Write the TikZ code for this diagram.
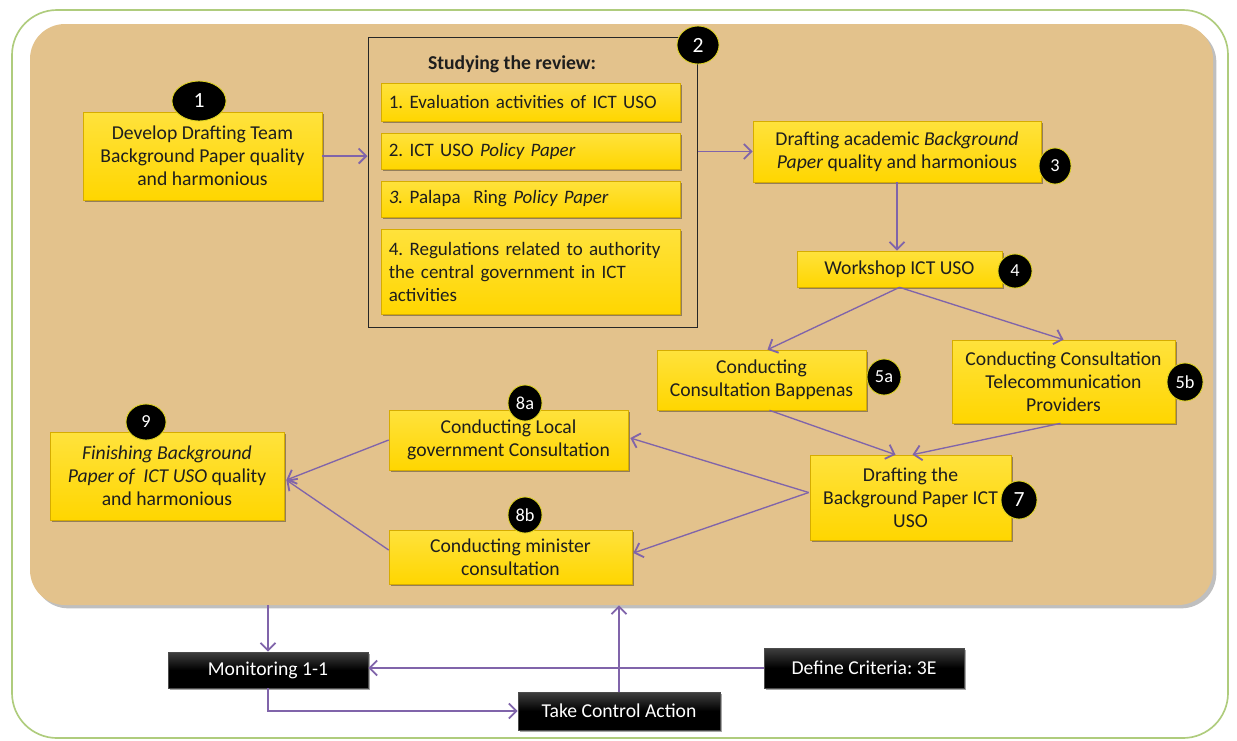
\documentclass[tikz,border=0pt]{standalone}
\usepackage{fontspec}
\setmainfont{Carlito}
\usetikzlibrary{arrows.meta,shadows,calc,shapes.geometric}
\definecolor{tanc}{RGB}{227,194,140}
\definecolor{yel}{RGB}{255,214,0}
\definecolor{yeltop}{RGB}{255,226,60}
\definecolor{yeldark}{RGB}{214,172,0}
\definecolor{arrowc}{RGB}{128,100,170}
\definecolor{framegreen}{RGB}{175,204,125}
\definecolor{txt}{RGB}{30,30,30}
\frenchspacing
\hyphenpenalty=10000
\tikzset{
  outerframe/.style={draw=framegreen, line width=1pt, rounded corners=27pt, fill=white},
  panel/.style={fill=tanc, rounded corners=21pt, drop shadow={shadow xshift=2pt, shadow yshift=-2pt, opacity=0.25, fill=black}},
  ybox/.style={top color=yeltop, bottom color=yel, draw=yeldark, line width=0.4pt, text=txt, align=center,
    font=\fontsize{11.8}{13.8}\selectfont, inner sep=2pt,
    drop shadow={shadow xshift=1.2pt, shadow yshift=-1.2pt, opacity=0.35, fill=black}},
  itembox/.style={ybox, align=left, text width=170pt, inner xsep=4.7pt,
    font=\fontsize{11.4}{13.8}\selectfont},
  bbox/.style={top color=black!75, bottom color=black, middle color=black, draw=black!70, text=white, font=\fontsize{11.8}{13.8}\selectfont,
    drop shadow={shadow xshift=1.2pt, shadow yshift=-1.2pt, opacity=0.35, fill=black}},
  badge/.style={ellipse, fill=black, draw=yellow!85!black, line width=0.5pt, text=white,
    inner sep=0pt, font=\fontsize{11}{12}\selectfont},
  conn/.style={draw=arrowc, line width=0.8pt, -{Straight Barb[length=4.5pt,width=9pt,line width=1.1pt]}}
}
\begin{document}
\begin{tikzpicture}[x=0.6pt,y=-0.6pt]
\useasboundingbox (0,0) rectangle (1237,740);
% frames
\node[outerframe, minimum width=1216*0.6pt, minimum height=728*0.6pt] (frame) at (620,374) {};
\node[panel, minimum width=1183*0.6pt, minimum height=581*0.6pt] (panel) at (621.5,314.5) {};

% box 1
\node[ybox, minimum width=239*0.6pt, minimum height=88*0.6pt] (box1) at (202.5,156)
  {Develop Drafting Team\\Background Paper quality\\and harmonious};
\node[badge, minimum width=54*0.6pt, minimum height=40*0.6pt, font=\fontsize{13}{14}\selectfont] (b1) at (199,101) {1};

% review group
\node[draw=black!85, line width=0.6pt, minimum width=329*0.6pt, minimum height=290*0.6pt] (review) at (532.5,182) {};
\node[badge, minimum width=42*0.6pt, minimum height=38*0.6pt, font=\fontsize{13}{14}\selectfont] (b2) at (698,45) {2};
\node[text=txt, font=\bfseries\fontsize{11.8}{13}\selectfont] (title) at (512,64) {Studying the review:};
\node[itembox, minimum width=299*0.6pt, minimum height=38*0.6pt] (i1) at (530.5,102) {1. Evaluation activities of ICT USO};
\node[itembox, minimum width=299*0.6pt, minimum height=36*0.6pt] (i2) at (530.5,151) {2. ICT USO \textit{Policy Paper}};
\node[itembox, minimum width=299*0.6pt, minimum height=36*0.6pt] (i3) at (530.5,199) {\textit{3.} Palapa\ \ Ring \textit{Policy Paper}};
\node[itembox, minimum width=299*0.6pt, minimum height=85*0.6pt] (i4) at (530.5,271.5)
  {4. Regulations related to authority\\the central government in ICT\\activities};

% box 3
\node[ybox, minimum width=288*0.6pt, minimum height=61*0.6pt] (box3) at (897,151.5)
  {Drafting academic \textit{Background}\\\textit{Paper} quality and harmonious};
\node[badge, minimum width=32*0.6pt, minimum height=36*0.6pt] (b3) at (1055,166) {3};

% box 4
\node[ybox, minimum width=205*0.6pt, minimum height=36*0.6pt] (box4) at (899.5,269) {Workshop ICT USO};
\node[badge, minimum width=34*0.6pt, minimum height=34*0.6pt] (b4) at (1015,271) {4};

% box 5a, 5b
\node[ybox, minimum width=209*0.6pt, minimum height=60*0.6pt] (box5a) at (761.5,380)
  {Conducting\\Consultation Bappenas};
\node[badge, minimum width=34*0.6pt, minimum height=36*0.6pt] (b5a) at (884,377) {5a};
\node[ybox, minimum width=223*0.6pt, minimum height=83*0.6pt] (box5b) at (1063.5,381.5)
  {Conducting Consultation\\Telecommunication\\Providers};
\node[badge, minimum width=36*0.6pt, minimum height=38*0.6pt] (b5b) at (1185,382) {5b};

% box 7
\node[ybox, minimum width=201*0.6pt, minimum height=85*0.6pt] (box7) at (910.5,497.5)
  {Drafting the\\Background Paper ICT\\USO};
\node[badge, minimum width=36*0.6pt, minimum height=38*0.6pt, font=\fontsize{13}{14}\selectfont] (b7) at (1019,500) {7};

% box 8a, 8b
\node[ybox, minimum width=239*0.6pt, minimum height=60*0.6pt] (box8a) at (508.5,440)
  {Conducting Local\\government Consultation};
\node[badge, minimum width=34*0.6pt, minimum height=36*0.6pt] (b8a) at (525,403) {8a};
\node[ybox, minimum width=243*0.6pt, minimum height=54*0.6pt] (box8b) at (510.5,557)
  {Conducting minister\\consultation};
\node[badge, minimum width=34*0.6pt, minimum height=36*0.6pt] (b8b) at (525,515) {8b};

% box 9
\node[ybox, minimum width=234*0.6pt, minimum height=88*0.6pt] (box9) at (167,476)
  {\textit{Finishing Background}\\\textit{Paper of\ \ ICT USO} quality\\and harmonious};
\node[badge, minimum width=40*0.6pt, minimum height=36*0.6pt] (b9) at (146,422) {9};

% black boxes
\node[bbox, minimum width=200*0.6pt, minimum height=36*0.6pt] (mon) at (268,670) {Monitoring 1-1};
\node[bbox, minimum width=202*0.6pt, minimum height=38*0.6pt] (tca) at (619,711) {Take Control Action};
\node[bbox, minimum width=200*0.6pt, minimum height=40*0.6pt] (dc) at (864,668) {Define Criteria: 3E};

% connectors
\draw[conn] (box1.east) -- (box1.east -| review.west);
\draw[conn] (box3.west -| review.east) -- (box3.west);
\draw[conn] (box3.south) -- (box3.south |- box4.north);
\draw[conn] (box4.south) -- ($(box5a.north)+(6,0)$);
\draw[conn] (box4.south) -- (box5b.north);
\draw[conn] ($(box5a.south)+(8,0)$) -- ($(box7.north)+(-15,0)$);
\draw[conn] ($(box5b.south)+(-3,0)$) -- ($(box7.north)+(2,0)$);
\draw[conn] ($(box7.west)+(-1,-5)$) -- ($(box8a.east)+(2,-2)$);
\draw[conn] ($(box7.west)+(-1,-5)$) -- ($(box8b.east)+(1,-4)$);
\draw[conn] (box8a.west) -- ($(box9.east)+(2,4)$);
\draw[conn] ($(box8b.west)+(0,-7)$) -- ($(box9.east)+(2,4)$);
\draw[conn] (mon.north |- panel.south) -- (mon.north);
\draw[conn] (dc.west) -- (dc.west -| mon.east);
\draw[conn] (mon.south) |- (tca.west);
\draw[conn] (tca.north) -- (tca.north |- panel.south);
\end{tikzpicture}
\end{document}
